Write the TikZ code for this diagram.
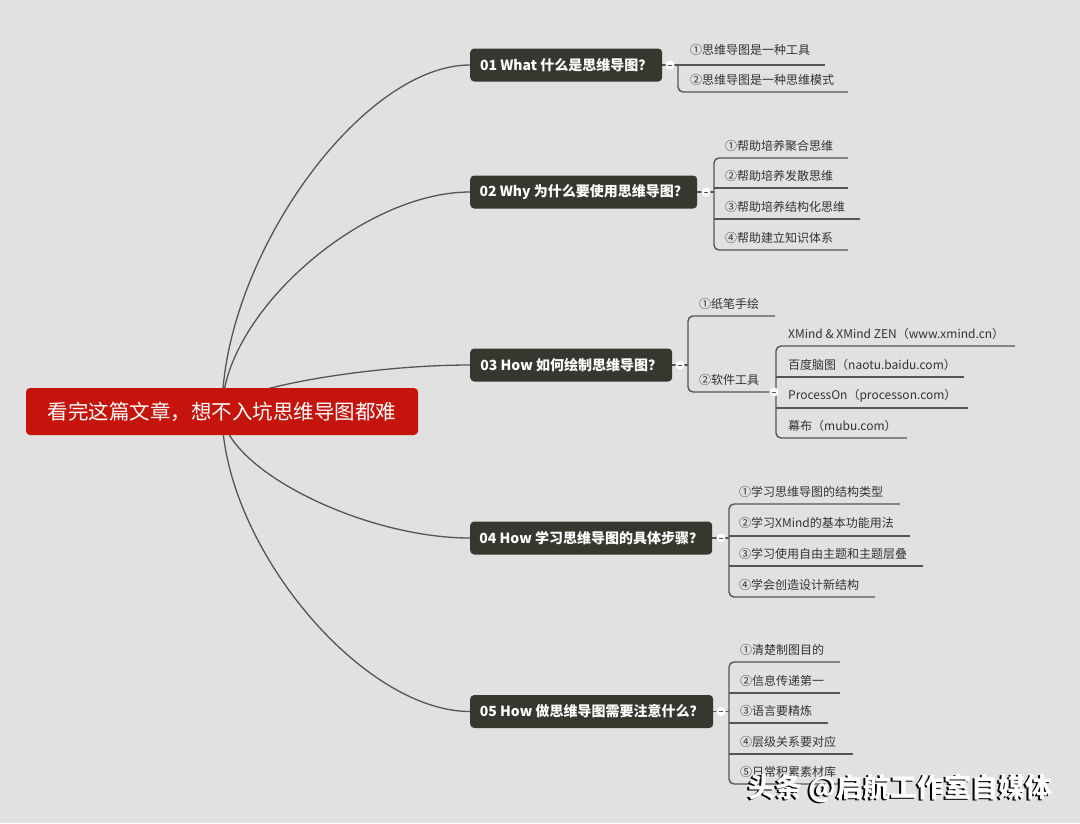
\documentclass[tikz,border=0pt]{standalone}
\usepackage{fontspec}
\setmainfont{Noto Sans CJK SC}
\usetikzlibrary{calc,backgrounds}
\definecolor{bg}{HTML}{E1E1E1}
\definecolor{rootred}{HTML}{C4140C}
\definecolor{boxdark}{HTML}{38372F}
\definecolor{linec}{HTML}{555555}
\definecolor{txt}{HTML}{333333}
\begin{document}
\begin{tikzpicture}[x=1pt,y=-1pt,
  conn/.style={draw=linec, line width=1.4pt},
  curve/.style={draw=linec, line width=1.3pt},
  rootbox/.style={fill=rootred, rounded corners=4pt, text=white, font=\fontsize{20.5}{24}\selectfont, minimum width=392pt, minimum height=47pt, inner sep=0pt},
  branch/.style={fill=boxdark, rounded corners=4pt, text=white, font=\bfseries\fontsize{14}{17}\selectfont, minimum height=33pt, inner sep=0pt, anchor=west},
  leaf/.style={text=txt, font=\fontsize{12}{14}\selectfont, inner sep=0pt, anchor=west},
  btn/.style={circle, fill=white, minimum size=9pt, inner sep=0pt},
  minus/.style={draw=linec, line width=1pt},
  wmark/.style={font=\bfseries\fontsize{27}{32}\selectfont, inner sep=0pt, anchor=west},
]
\useasboundingbox (0,0) rectangle (1080,823);

% root and branches
\node[rootbox] (root) at (222,411.5) {看完这篇文章，想不入坑思维导图都难};
\node[branch, minimum width=192pt] (b1) at (470,65) {01 What 什么是思维导图？};
\node[branch, minimum width=227pt] (b2) at (470,192) {02 Why 为什么要使用思维导图？};
\node[branch, minimum width=202pt] (b3) at (470,365) {03 How 如何绘制思维导图？};
\node[branch, minimum width=242pt] (b4) at (470,538) {04 How 学习思维导图的具体步骤？};
\node[branch, minimum width=243pt] (b5) at (470,711.5) {05 How 做思维导图需要注意什么？};

\begin{scope}[on background layer]
  \fill[bg] (0,0) rectangle (1080,823);
  \foreach \b in {b1,b2,b3,b4,b5}{
    \draw[curve] (root.center) .. controls ($(root.center)!0.44!(root.center|-\b.west)$) and ($(\b.west)!0.44!(root.center|-\b.west)$) .. (\b.west);
  }
\end{scope}

% ---------- branch 1
\coordinate (sp1) at (678,65);
\coordinate (e11) at (825,65);
\coordinate (e12) at (848,92);
\node[leaf] (t11) at (690,50) {①思维导图是一种工具};
\node[leaf] (t12) at (690,80) {②思维导图是一种思维模式};
\draw[conn] (b1.east) -- (e11);
\draw[conn, rounded corners=5pt] (sp1) |- (e12);
\node[btn] (k1) at (670,65) {};
\draw[minus] ($(k1.center)+(-2.2,0)$) -- ($(k1.center)+(2.2,0)$);

% ---------- branch 2
\coordinate (sp2) at (714,192);
\coordinate (e21) at (848,158);
\coordinate (e22) at (848,188);
\coordinate (e23) at (860,219);
\coordinate (e24) at (848,250);
\node[leaf] (t21) at (725,146) {①帮助培养聚合思维};
\node[leaf] (t22) at (725,176) {②帮助培养发散思维};
\node[leaf] (t23) at (725,207) {③帮助培养结构化思维};
\node[leaf] (t24) at (725,238) {④帮助建立知识体系};
\draw[conn] (b2.east) -- (sp2);
\draw[conn, rounded corners=5pt] (e21) -| (sp2) |- (e24);
\draw[conn] (sp2 |- e22) -- (e22);
\draw[conn] (sp2 |- e23) -- (e23);
\node[btn] (k2) at (706,192) {};
\draw[minus] ($(k2.center)+(-2.2,0)$) -- ($(k2.center)+(2.2,0)$);

% ---------- branch 3
\coordinate (sp3) at (688,365);
\coordinate (e31) at (775,316);
\coordinate (sp33) at (776,392);
\node[leaf] (t31) at (699,304) {①纸笔手绘};
\node[leaf] (t32) at (699,380) {②软件工具};
\draw[conn] (b3.east) -- (sp3);
\draw[conn, rounded corners=5pt] (e31) -| (sp3) |- (sp33);
\coordinate (f1) at (1015,346);
\coordinate (f2) at (964,377);
\coordinate (f3) at (968,408);
\coordinate (f4) at (907,438);
\node[leaf] (u1) at (788,334) {XMind \& XMind ZEN（www.xmind.cn）};
\node[leaf] (u2) at (788,365) {百度脑图（naotu.baidu.com）};
\node[leaf] (u3) at (788,396) {ProcessOn（processon.com）};
\node[leaf] (u4) at (788,426) {幕布（mubu.com）};
\draw[conn, rounded corners=5pt] (f1) -| (sp33) |- (f4);
\draw[conn] (sp33 |- f2) -- (f2);
\draw[conn] (sp33 |- f3) -- (f3);
\node[btn] (k3) at (680,365) {};
\draw[minus] ($(k3.center)+(-2.2,0)$) -- ($(k3.center)+(2.2,0)$);
\node[btn] (k33) at (774,392) {};
\draw[minus] ($(k33.center)+(-2.2,0)$) -- ($(k33.center)+(2.2,0)$);

% ---------- branch 4
\coordinate (sp4) at (729,538);
\coordinate (e41) at (900,504);
\coordinate (e42) at (910,536);
\coordinate (e43) at (923,566);
\coordinate (e44) at (875,597);
\node[leaf] (t41) at (739,492) {①学习思维导图的结构类型};
\node[leaf] (t42) at (739,523) {②学习XMind的基本功能用法};
\node[leaf] (t43) at (739,554) {③学习使用自由主题和主题层叠};
\node[leaf] (t44) at (739,585) {④学会创造设计新结构};
\draw[conn] (b4.east) -- (sp4);
\draw[conn, rounded corners=5pt] (e41) -| (sp4) |- (e44);
\draw[conn] (sp4 |- e42) -- (e42);
\draw[conn] (sp4 |- e43) -- (e43);
\node[btn] (k4) at (721,538) {};
\draw[minus] ($(k4.center)+(-2.2,0)$) -- ($(k4.center)+(2.2,0)$);

% ---------- branch 5
\coordinate (sp5) at (729,711.5);
\coordinate (e51) at (840,662);
\coordinate (e52) at (840,693);
\coordinate (e53) at (828,723);
\coordinate (e54) at (853,754);
\coordinate (e55) at (855,784);
\node[leaf] (t51) at (740,650) {①清楚制图目的};
\node[leaf] (t52) at (740,681) {②信息传递第一};
\node[leaf] (t53) at (740,711) {③语言要精炼};
\node[leaf] (t54) at (740,742) {④层级关系要对应};
\node[leaf] (t55) at (740,772) {⑤日常积累素材库};
\draw[conn] (b5.east) -- (sp5);
\draw[conn, rounded corners=5pt] (e51) -| (sp5) |- (e55);
\draw[conn] (sp5 |- e52) -- (e52);
\draw[conn] (sp5 |- e53) -- (e53);
\draw[conn] (sp5 |- e54) -- (e54);
\node[btn] (k5) at (721,711.5) {};
\draw[minus] ($(k5.center)+(-2.2,0)$) -- ($(k5.center)+(2.2,0)$);

% watermark
\node[wmark, text=black] (wms) at (746.5,789.5) {头条 @启航工作室自媒体};
\node[wmark, text=white] (wm) at (748,788) {头条 @启航工作室自媒体};
\end{tikzpicture}
\end{document}
